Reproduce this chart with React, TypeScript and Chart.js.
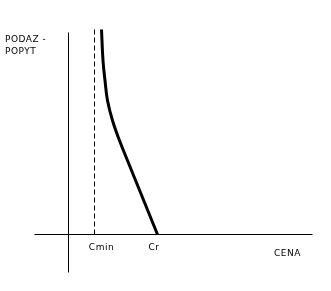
import React, { useEffect, useRef } from "react";
import { Chart, registerables } from "chart.js";

Chart.register(...registerables);

// Curve (price vs supply/demand)
const curveX = [33, 34.5, 36.5, 39, 44, 51, 59, 74, 89];
const curveY = [205, 174, 154, 134, 114, 94, 74, 37, 0];

// Dashed Cmin line
const cminValue = 26;
const cminTop = 206;

// Axis extents
const xAxisRange = [-34, 244];
const yAxisRange = [-38, 202];

// Labels
const tickLabels = ["Cmin", "Cr"];
const tickLabelX = [33, 85.5];
const yTitleLines = ["PODAZ -", "POPYT"];
const xTitle = "CENA";

const FONT = '9px "DejaVu Sans", sans-serif';

const labelPlugin = {
  id: "labels",
  afterDraw(chart: any) {
    const ctx = chart.ctx;
    const xs = chart.scales.x;
    const ys = chart.scales.y;
    ctx.save();
    ctx.fillStyle = "#000";
    ctx.font = FONT;
    try {
      (ctx as any).letterSpacing = "0.5px";
    } catch (e) {}
    ctx.textBaseline = "alphabetic";
    ctx.textAlign = "center";
    const base = ys.getPixelForValue(0);
    tickLabels.forEach((t, i) => {
      ctx.fillText(t, xs.getPixelForValue(tickLabelX[i]), base + 15);
    });
    ctx.fillText(xTitle, 287.5, base + 21);
    ctx.textAlign = "left";
    yTitleLines.forEach((t, i) => {
      ctx.fillText(t, 5, 41.5 + i * 12);
    });
    ctx.restore();
  },
};

export default function App() {
  const ref = useRef<HTMLCanvasElement>(null);
  useEffect(() => {
    const canvas = ref.current!;
    const chart = new Chart(canvas, {
      type: "line",
      data: {
        datasets: [
          {
            data: curveX.map((x, i) => ({ x, y: curveY[i] })),
            borderColor: "#000",
            borderWidth: 3,
            pointRadius: 0,
            tension: 0.4,
            fill: false,
            clip: false,
          } as any,
          {
            data: [
              { x: cminValue, y: 0 },
              { x: cminValue, y: cminTop },
            ],
            borderColor: "#000",
            borderWidth: 1,
            borderDash: [5, 3],
            pointRadius: 0,
            fill: false,
            clip: false,
          },
          {
            data: [
              { x: xAxisRange[0], y: 0 },
              { x: xAxisRange[1], y: 0 },
            ],
            borderColor: "#000",
            borderWidth: 1,
            pointRadius: 0,
            fill: false,
            clip: false,
          },
          {
            data: [
              { x: 0, y: yAxisRange[0] },
              { x: 0, y: yAxisRange[1] },
            ],
            borderColor: "#000",
            borderWidth: 1,
            pointRadius: 0,
            fill: false,
            clip: false,
          },
        ],
      },
      options: {
        animation: false,
        responsive: false,
        maintainAspectRatio: false,
        layout: { padding: 0 },
        plugins: {
          legend: { display: false },
          tooltip: { enabled: false },
        },
        scales: {
          x: { type: "linear", display: false, min: -68.5, max: 262.5 },
          y: { type: "linear", display: false, min: -56.5, max: 234.5 },
        },
      },
      plugins: [labelPlugin],
    });
    return () => chart.destroy();
  }, []);
  return (
    <div style={{ position: "absolute", left: 0, top: 0, width: 331, height: 291, background: "#fff" }}>
      <canvas ref={ref} width={331} height={291} style={{ width: 331, height: 291, display: "block" }} />
    </div>
  );
}
